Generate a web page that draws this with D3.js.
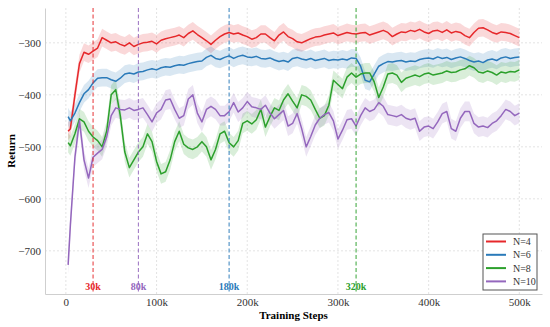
<!DOCTYPE html>
<html>
<head>
<meta charset="utf-8">
<script src="https://cdn.jsdelivr.net/npm/d3@7"></script>
<style>
  body { margin: 0; background: white; }
  svg { font-family: "Liberation Serif", "Times New Roman", serif; }
</style>
</head>
<body>
<div id="chart"></div>
<script>
/* CONSTANTS AND GLOBALS */
const width = 550;
const height = 327;
const margin = { top: 8, right: 8, bottom: 33, left: 45 };

/* DATA */
// training steps (x), one point every 5k
const steps = [2500].concat(d3.range(5000, 500001, 5000));

const seriesNames = ["N=4", "N=6", "N=8", "N=10"];
const seriesColors = ["#e6282b", "#2a7ab9", "#2ca02c", "#9467bd"];
const bandHalf = [17, 17, 19, 19];

const returnN4 = [
  -470, -465, -400, -340, -318, -322, -316, -310, -290, -295,
  -300, -298, -303, -306, -300, -307, -303, -300, -299, -297,
  -302, -295, -292, -290, -288, -285, -290, -282, -277, -284,
  -290, -296, -303, -295, -288, -283, -280, -283, -281, -285,
  -288, -293, -290, -283, -283, -290, -296, -285, -279, -288,
  -292, -298, -300, -296, -292, -289, -288, -285, -283, -281,
  -286, -283, -280, -282, -283, -281, -280, -285, -282, -279,
  -276, -280, -288, -283, -279, -280, -276, -278, -274, -279,
  -282, -277, -276, -280, -275, -281, -278, -280, -286, -290,
  -280, -272, -271, -275, -280, -283, -279, -280, -282, -286,
  -290
];

const returnN6 = [
  -442, -450, -435, -415, -398, -390, -377, -368, -367, -367,
  -371, -374, -368, -360, -358, -360, -356, -355, -352, -350,
  -352, -348, -346, -347, -344, -342, -343, -340, -338, -336,
  -335, -328, -324, -330, -332, -328, -325, -330, -326, -324,
  -327, -328, -326, -330, -331, -329, -333, -336, -334, -337,
  -330, -328, -331, -333, -330, -334, -332, -330, -334, -332,
  -333, -331, -333, -329, -330, -345, -372, -375, -360, -345,
  -340, -336, -337, -335, -334, -337, -335, -336, -332, -330,
  -329, -331, -327, -330, -328, -332, -329, -327, -330, -334,
  -337, -335, -338, -333, -331, -334, -329, -327, -330, -328,
  -327
];

const returnN8 = [
  -492, -498, -475, -446, -452, -470, -481, -488, -500, -470,
  -400, -390, -440, -510, -540, -525, -510, -500, -475, -490,
  -528, -552, -548, -525, -490, -470, -495, -502, -505, -500,
  -490, -500, -525, -505, -475, -470, -492, -500, -488, -455,
  -450, -456, -448, -428, -462, -442, -425, -430, -410, -398,
  -412, -425, -400, -403, -410, -428, -445, -440, -420, -372,
  -380, -388, -366, -358, -366, -360, -358, -358, -375, -405,
  -385, -360, -358, -362, -376, -368, -365, -362, -365, -360,
  -358, -362, -360, -358, -354, -357, -356, -352, -350, -344,
  -348, -356, -358, -354, -357, -362, -356, -358, -355, -356,
  -352
];

const returnN10 = [
  -727, -650, -520, -450, -525, -560, -520, -512, -505, -481,
  -440, -425, -428, -429, -425, -430, -428, -425, -438, -452,
  -435, -428, -410, -408, -428, -445, -440, -408, -400, -435,
  -452, -428, -422, -428, -440, -440, -432, -415, -433, -425,
  -413, -423, -425, -428, -420, -435, -446, -438, -430, -460,
  -455, -436, -465, -500, -480, -458, -445, -438, -434, -450,
  -485, -468, -448, -446, -460, -440, -425, -432, -428, -415,
  -422, -438, -440, -442, -438, -445, -448, -445, -470, -462,
  -460, -465, -452, -436, -432, -465, -470, -445, -432, -432,
  -455, -462, -460, -463, -455, -450, -440, -428, -432, -440,
  -435
];

const allReturns = [returnN4, returnN6, returnN8, returnN10];

// vertical markers
const markerSteps = [30000, 80000, 180000, 320000];
const markerLabels = ["30k", "80k", "180k", "320k"];
const markerColors = ["#e6282b", "#9467bd", "#2a7ab9", "#2ca02c"];

const xTicks = [0, 100000, 200000, 300000, 400000, 500000];
const yTicks = [-700, -600, -500, -400, -300];

/* SCALES */
const xScale = d3.scaleLinear()
  .domain([-23000, 525000])
  .range([margin.left, width - margin.right]);

const yScale = d3.scaleLinear()
  .domain([-783, -233])
  .range([height - margin.bottom, margin.top]);

/* HTML ELEMENTS */
const svg = d3.select("#chart")
  .append("svg")
  .attr("width", width)
  .attr("height", height)
  .style("background-color", "white");

// grid
svg.append("g")
  .selectAll("line")
  .data(xTicks)
  .join("line")
  .attr("x1", d => xScale(d))
  .attr("x2", d => xScale(d))
  .attr("y1", margin.top)
  .attr("y2", height - margin.bottom)
  .attr("stroke", "#dcdcdc")
  .attr("stroke-width", 0.8)
  .attr("stroke-dasharray", "2,2");

svg.append("g")
  .selectAll("line")
  .data(yTicks)
  .join("line")
  .attr("x1", margin.left)
  .attr("x2", width - margin.right)
  .attr("y1", d => yScale(d))
  .attr("y2", d => yScale(d))
  .attr("stroke", "#dcdcdc")
  .attr("stroke-width", 0.8)
  .attr("stroke-dasharray", "2,2");

// bands
const area = (k) => d3.area()
  .x((d, i) => xScale(steps[i]))
  .y0(d => yScale(d - bandHalf[k]))
  .y1(d => yScale(d + bandHalf[k]));

const line = d3.line()
  .x((d, i) => xScale(steps[i]))
  .y(d => yScale(d));

const plot = svg.append("g");

allReturns.forEach((vals, k) => {
  plot.append("path")
    .datum(vals)
    .attr("d", area(k))
    .attr("fill", seriesColors[k])
    .attr("opacity", 0.18);
});

allReturns.forEach((vals, k) => {
  plot.append("path")
    .datum(vals)
    .attr("d", line)
    .attr("fill", "none")
    .attr("stroke", seriesColors[k])
    .attr("stroke-width", 1.5)
    .attr("stroke-linejoin", "round");
});

// dashed markers
svg.append("g")
  .selectAll("line")
  .data(markerSteps)
  .join("line")
  .attr("x1", d => xScale(d))
  .attr("x2", d => xScale(d))
  .attr("y1", margin.top)
  .attr("y2", height - margin.bottom)
  .attr("stroke", (d, i) => markerColors[i])
  .attr("stroke-width", 1.1)
  .attr("stroke-dasharray", "4,2.5")
  .attr("opacity", 0.85);

svg.append("g")
  .attr("font-size", 10)
  .attr("font-weight", "bold")
  .attr("text-anchor", "middle")
  .selectAll("text")
  .data(markerSteps)
  .join("text")
  .attr("x", d => xScale(d))
  .attr("y", height - margin.bottom - 4)
  .attr("fill", (d, i) => markerColors[i])
  .text((d, i) => markerLabels[i]);

// axes
const xAxis = svg.append("g")
  .attr("transform", `translate(0,${height - margin.bottom})`)
  .call(d3.axisBottom(xScale)
    .tickValues(xTicks)
    .tickSize(0)
    .tickPadding(4)
    .tickFormat(d => d === 0 ? "0" : (d / 1000) + "k"));

const yAxis = svg.append("g")
  .attr("transform", `translate(${margin.left},0)`)
  .call(d3.axisLeft(yScale)
    .tickValues(yTicks)
    .tickSize(0)
    .tickPadding(4)
    .tickFormat(d => "\u2212" + Math.abs(d)));

[xAxis, yAxis].forEach(g => {
  g.select(".domain").attr("stroke", "#cfcfcf").attr("stroke-width", 1);
  g.selectAll("text")
    .attr("font-family", "Liberation Serif, serif")
    .attr("font-size", 11)
    .attr("fill", "#333");
});

svg.append("text")
  .attr("x", (margin.left + width - margin.right) / 2)
  .attr("y", height - 8)
  .attr("text-anchor", "middle")
  .attr("font-size", 11)
  .attr("font-weight", "bold")
  .text("Training Steps");

svg.append("text")
  .attr("transform", `translate(15,${(margin.top + height - margin.bottom) / 2}) rotate(-90)`)
  .attr("text-anchor", "middle")
  .attr("font-size", 11)
  .attr("font-weight", "bold")
  .text("Return");

// legend
const legend = svg.append("g")
  .attr("transform", "translate(483,234)");

legend.append("rect")
  .attr("width", 54)
  .attr("height", 56)
  .attr("fill", "white")
  .attr("stroke", "#555")
  .attr("stroke-width", 1);

const items = legend.selectAll("g")
  .data(seriesNames)
  .join("g")
  .attr("transform", (d, i) => `translate(0,${7.5 + i * 13.3})`);

items.append("line")
  .attr("x1", 3)
  .attr("x2", 23)
  .attr("stroke", (d, i) => seriesColors[i])
  .attr("stroke-width", 2);

items.append("text")
  .attr("x", 30)
  .attr("y", 3.5)
  .attr("font-size", 10)
  .attr("fill", "#333")
  .text(d => d);
</script>
</body>
</html>
